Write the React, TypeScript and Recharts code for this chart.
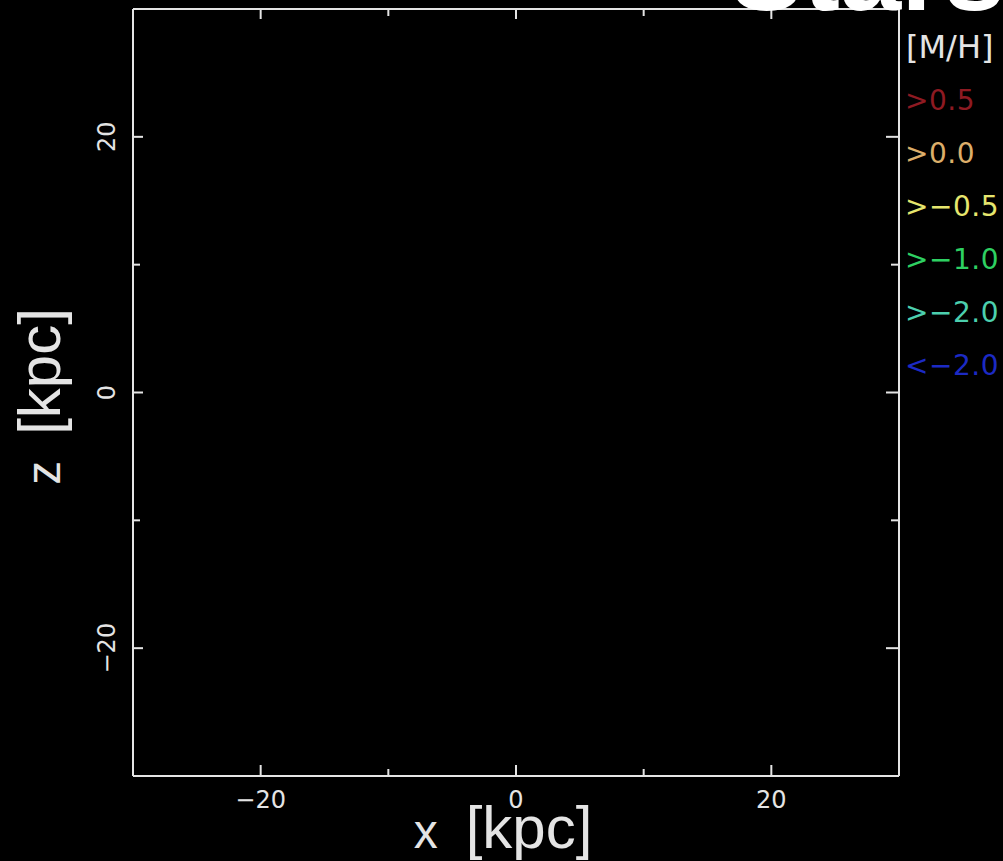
import React from 'react';
import { ScatterChart, Scatter, XAxis, YAxis } from 'recharts';

const WIDTH = 1003;
const HEIGHT = 861;
const FG = '#e4e4e4';
const TICK_FONT = 'DejaVu Sans, sans-serif';
const TITLE_FONT = 'Liberation Sans, Arial, sans-serif';

// axis setup, x and z in kpc
const axisDomain: [number, number] = [-30, 30];
const majorTicks = [-20, 0, 20];
const minorTicks = [-10, 10];

// metallicity bins shown in the key
const binLabels = ['>0.5', '>0.0', '>−0.5', '>−1.0', '>−2.0', '<−2.0'];
const binColors = ['#8e1a22', '#dcae6a', '#e6e66e', '#2ed062', '#4ccfae', '#1c2ac4'];
// no star particles are visible inside the frame
const binStars: { x: number; z: number }[][] = [[], [], [], [], [], []];

const fmt = (v: number) => (v < 0 ? `−${Math.abs(v)}` : `${v}`);

const XTick = ({ x, y, payload }: any) => (
    <text x={x} y={y} dy={18} textAnchor="middle" fill={FG} fontSize={24} fontFamily={TICK_FONT}>
        {fmt(payload.value)}
    </text>
);

const YTick = ({ x, y, payload }: any) => (
    <text
        x={x}
        y={y}
        transform={`rotate(-90 ${x} ${y})`}
        textAnchor="middle"
        fill={FG}
        fontSize={24}
        fontFamily={TICK_FONT}
    >
        {fmt(payload.value)}
    </text>
);

// tick marks only, no label
const NoLabel = () => <g />;

const XTitle = ({ viewBox }: any) => {
    const cx = viewBox.x + viewBox.width / 2 - 13;
    const by = viewBox.y + 72;
    return (
        <text x={cx} y={by} textAnchor="middle" fill={FG} fontFamily={TITLE_FONT}>
            <tspan fontSize={48}>x</tspan>
            <tspan dx={28} fontSize={60}>[kpc]</tspan>
        </text>
    );
};

const YTitle = ({ viewBox }: any) => {
    const bx = 60;
    const cy = viewBox.y + viewBox.height / 2 + 4;
    return (
        <text
            x={bx}
            y={cy}
            transform={`rotate(-90 ${bx} ${cy})`}
            textAnchor="middle"
            fill={FG}
            fontFamily={TITLE_FONT}
        >
            <tspan fontSize={48}>z</tspan>
            <tspan dx={26} fontSize={60}>[kpc]</tspan>
        </text>
    );
};

const tickStroke = { stroke: FG, strokeWidth: 2 };
const lineStroke = { stroke: FG, strokeWidth: 2 };

// inward tick marks (and optionally the frame line) on one side
const xMarks = (id: string, side: 'top' | 'bottom', ticks: number[], size: number, line: boolean) => (
    <XAxis
        key={id}
        xAxisId={id}
        type="number"
        dataKey="x"
        orientation={side}
        mirror
        height={1}
        domain={axisDomain}
        allowDataOverflow
        ticks={ticks}
        tick={NoLabel}
        tickSize={size}
        tickLine={tickStroke}
        axisLine={line ? lineStroke : false}
    />
);

const yMarks = (id: string, side: 'left' | 'right', ticks: number[], size: number, line: boolean) => (
    <YAxis
        key={id}
        yAxisId={id}
        type="number"
        dataKey="z"
        orientation={side}
        mirror
        width={1}
        domain={axisDomain}
        allowDataOverflow
        ticks={ticks}
        tick={NoLabel}
        tickSize={size}
        tickLine={tickStroke}
        axisLine={line ? lineStroke : false}
    />
);

export default function App() {
    return (
        <div
            style={{
                position: 'fixed',
                top: 0,
                left: 0,
                width: WIDTH,
                height: HEIGHT,
                background: '#000',
                overflow: 'hidden',
            }}
        >
            <ScatterChart width={WIDTH} height={HEIGHT} margin={{ top: 9, right: 104, bottom: 0, left: 0 }}>
                <XAxis
                    xAxisId="x"
                    type="number"
                    dataKey="x"
                    domain={axisDomain}
                    allowDataOverflow
                    ticks={majorTicks}
                    height={85}
                    tickSize={0}
                    tickMargin={14}
                    tickLine={false}
                    axisLine={lineStroke}
                    tick={<XTick />}
                    label={XTitle}
                />
                <YAxis
                    yAxisId="y"
                    type="number"
                    dataKey="z"
                    domain={axisDomain}
                    allowDataOverflow
                    ticks={majorTicks}
                    width={133}
                    tickSize={0}
                    tickMargin={18}
                    tickLine={false}
                    axisLine={lineStroke}
                    tick={<YTick />}
                    label={YTitle}
                />
                {xMarks('xb1', 'bottom', majorTicks, 11, false)}
                {xMarks('xb2', 'bottom', minorTicks, 6, false)}
                {xMarks('xt1', 'top', majorTicks, 10, true)}
                {xMarks('xt2', 'top', minorTicks, 6, false)}
                {yMarks('yl1', 'left', majorTicks, 10, false)}
                {yMarks('yl2', 'left', minorTicks, 6, false)}
                {yMarks('yr1', 'right', majorTicks, 13, true)}
                {yMarks('yr2', 'right', minorTicks, 7, false)}
                {binStars.map((stars, i) => (
                    <Scatter
                        key={binLabels[i]}
                        name={binLabels[i]}
                        xAxisId="x"
                        yAxisId="y"
                        data={stars}
                        fill={binColors[i]}
                        isAnimationActive={false}
                    />
                ))}
            </ScatterChart>
            <svg
                width={WIDTH}
                height={HEIGHT}
                style={{ position: 'absolute', top: 0, left: 0, pointerEvents: 'none' }}
            >
                <text x={730} y={10} fill="#fff" fontSize={110} fontWeight="bold" fontFamily={TITLE_FONT}>
                    Stars
                </text>
                <text x={906} y={58} fill={FG} fontSize={32} fontFamily={TICK_FONT}>
                    [M/H]
                </text>
                {binLabels.map((label, i) => (
                    <text
                        key={label}
                        x={905}
                        y={110 + i * 53}
                        fill={binColors[i]}
                        fontSize={28}
                        fontFamily={TICK_FONT}
                        letterSpacing={0.5}
                    >
                        {label}
                    </text>
                ))}
            </svg>
        </div>
    );
}
